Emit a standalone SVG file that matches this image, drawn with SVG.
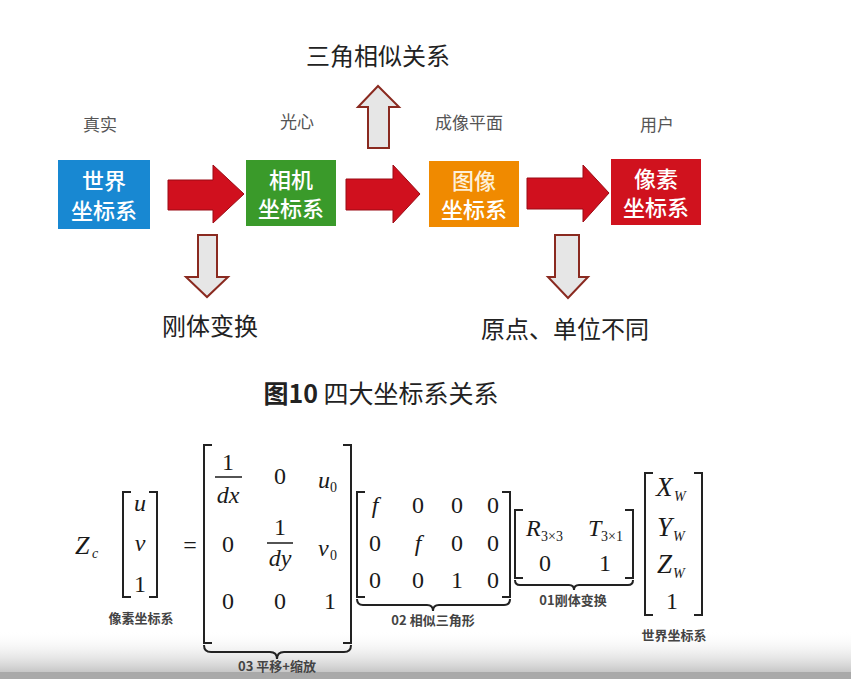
<svg xmlns="http://www.w3.org/2000/svg" width="851" height="679" viewBox="0 0 851 679">
<defs>
<style>
.cjk{font-family:"Noto Sans CJK SC","Noto Sans",sans-serif}
.lbl{font-size:17px;fill:#555;text-anchor:middle}
.big{font-size:24px;fill:#222;text-anchor:middle}
.box{font-size:22px;fill:#fff;text-anchor:middle;font-weight:500}
.m{font-family:"Liberation Serif","Times New Roman",serif;font-size:24px;fill:#1a1a1a;text-anchor:middle}
.s{text-anchor:start}
.i{font-style:italic}
.sub{font-size:14px}
.cap{font-family:"Noto Sans CJK SC",sans-serif;font-size:13px;font-weight:700;fill:#444;text-anchor:middle}
.br{fill:none;stroke:#222;stroke-width:2}
.red{fill:#d0101e;stroke:#9a0a14;stroke-width:1}
.hol{fill:#e6e6e6;stroke:#8a2a20;stroke-width:2}
</style>
<linearGradient id="bot" x1="0" y1="0" x2="0" y2="1">
<stop offset="0" stop-color="#ffffff" stop-opacity="0"/>
<stop offset="1" stop-color="#c4c4c4"/>
</linearGradient>
</defs>
<rect width="851" height="679" fill="#fff"/>
<rect x="0" y="630" width="851" height="43" fill="url(#bot)"/>
<rect x="0" y="672" width="851" height="7" fill="#a9a9a9"/>

<g class="cjk">
<text class="lbl" x="100" y="131">真实</text>
<text class="lbl" x="297" y="128">光心</text>
<text class="lbl" x="469" y="129">成像平面</text>
<text class="lbl" x="657" y="131">用户</text>
<text class="big" x="378" y="65">三角相似关系</text>
<text class="big" x="210" y="335">刚体变换</text>
<text class="big" x="565" y="338">原点、单位不同</text>
<text class="big" x="381" y="403" style="font-size:25px"><tspan font-weight="700">图10</tspan> 四大坐标系关系</text>
</g>

<g id="world" class="cjk">
<rect x="58" y="160" width="92" height="69" fill="#1888d2"/>
<text class="box"><tspan x="104" y="189">世界</tspan><tspan x="104" y="219">坐标系</tspan></text>
</g>
<g id="camera" class="cjk">
<rect x="246" y="160" width="90" height="66" fill="#3a9a2a"/>
<text class="box"><tspan x="291" y="188">相机</tspan><tspan x="291" y="217">坐标系</tspan></text>
</g>
<g id="image" class="cjk">
<rect x="429" y="161" width="90" height="66" fill="#f08a00"/>
<text class="box"><tspan x="474" y="189" fill="#fdf0d8">图像</tspan><tspan x="474" y="218">坐标系</tspan></text>
</g>
<g id="pixel" class="cjk">
<rect x="611" y="159" width="90" height="66" fill="#d0121e"/>
<text class="box"><tspan x="656" y="187">像素</tspan><tspan x="656" y="216">坐标系</tspan></text>
</g>

<g id="connectors">
<polygon class="red" points="168,180 213,180 213,165 244,194 213,223 213,210 168,210"/>
<polygon class="red" points="346,179 393,179 393,165 420,194 393,223 393,210 346,210"/>
<polygon class="red" points="527,178 583,178 583,165 609,193 583,222 583,209 527,209"/>
<polygon class="hol" points="368,148 368,107 358,107 378,86 399,107 389,107 389,148"/>
<polygon class="hol" points="198,235 217,235 217,277 228,277 207,297 186,277 198,277"/>
<polygon class="hol" points="555,235 579,235 579,277 588,277 568,298 548,277 555,277"/>
</g>

<g id="formula">
<text class="m i s" x="75" y="554" style="font-size:26px">Z</text>
<text class="m i sub s" x="92" y="558">c</text>
<path class="br" d="M131,492 H123 V597 H131 M149,492 H157 V597 H149"/>
<text class="m i" x="140" y="511">u</text>
<text class="m i" x="140" y="551">v</text>
<text class="m" x="140" y="592">1</text>
<text class="cap" x="141" y="623">像素坐标系</text>
<text class="m" x="190" y="553">=</text>

<path class="br" d="M212,445 H204 V643 H212 M343,445 H351 V643 H343"/>
<text class="m" x="228" y="470">1</text>
<line x1="215" y1="477" x2="242" y2="477" stroke="#1a1a1a" stroke-width="1.5"/>
<text class="m i" x="228" y="503">dx</text>
<text class="m" x="280" y="484">0</text>
<text class="m i s" x="318" y="488">u</text>
<text class="m sub s" x="330" y="492">0</text>
<text class="m" x="228" y="552">0</text>
<text class="m" x="280" y="535">1</text>
<line x1="267" y1="543" x2="293" y2="543" stroke="#1a1a1a" stroke-width="1.5"/>
<text class="m i" x="280" y="566">dy</text>
<text class="m i s" x="318" y="556">v</text>
<text class="m sub s" x="330" y="560">0</text>
<text class="m" x="228" y="609">0</text>
<text class="m" x="280" y="609">0</text>
<text class="m" x="330" y="609">1</text>
<path class="br" stroke-width="1.5" d="M204,645 q0,7 7,7 H270 q7,0 7,7 q0,-7 7,-7 H344 q7,0 7,-7"/>
<text class="cap" x="277" y="671">03 平移+缩放</text>

<path class="br" d="M365,492 H357 V597 H365 M502,492 H510 V597 H502"/>
<text class="m i" x="375" y="513">f</text>
<text class="m" x="418" y="513">0</text>
<text class="m" x="457" y="513">0</text>
<text class="m" x="493" y="513">0</text>
<text class="m" x="375" y="551">0</text>
<text class="m i" x="418" y="551">f</text>
<text class="m" x="457" y="551">0</text>
<text class="m" x="493" y="551">0</text>
<text class="m" x="375" y="588">0</text>
<text class="m" x="418" y="588">0</text>
<text class="m" x="457" y="588">1</text>
<text class="m" x="493" y="588">0</text>
<path class="br" stroke-width="1.5" d="M357,599 q0,6 6,6 H427 q6,0 6,6 q0,-6 6,-6 H504 q6,0 6,-6"/>
<text class="cap" x="433" y="625">02 相似三角形</text>

<path class="br" d="M523,510 H515 V578 H523 M625,510 H633 V578 H625"/>
<text class="m i s" x="526" y="536">R</text>
<text class="m sub s" x="541" y="541">3×3</text>
<text class="m i s" x="588" y="536">T</text>
<text class="m sub s" x="601" y="541">3×1</text>
<text class="m" x="545" y="571">0</text>
<text class="m" x="605" y="571">1</text>
<path class="br" stroke-width="1.5" d="M515,580 q0,5 5,5 H569 q5,0 5,5 q0,-5 5,-5 H628 q5,0 5,-5"/>
<text class="cap" x="573" y="605">01刚体变换</text>

<path class="br" d="M653,473 H645 V615 H653 M694,473 H702 V615 H694"/>
<text class="m i s" x="656" y="496" style="font-size:27px">X</text>
<text class="m i sub s" x="674" y="501">W</text>
<text class="m i s" x="657" y="536" style="font-size:27px">Y</text>
<text class="m i sub s" x="673" y="541">W</text>
<text class="m i s" x="657" y="573" style="font-size:27px">Z</text>
<text class="m i sub s" x="673" y="578">W</text>
<text class="m" x="672" y="609">1</text>
<text class="cap" x="674" y="640">世界坐标系</text>
</g>
</svg>
